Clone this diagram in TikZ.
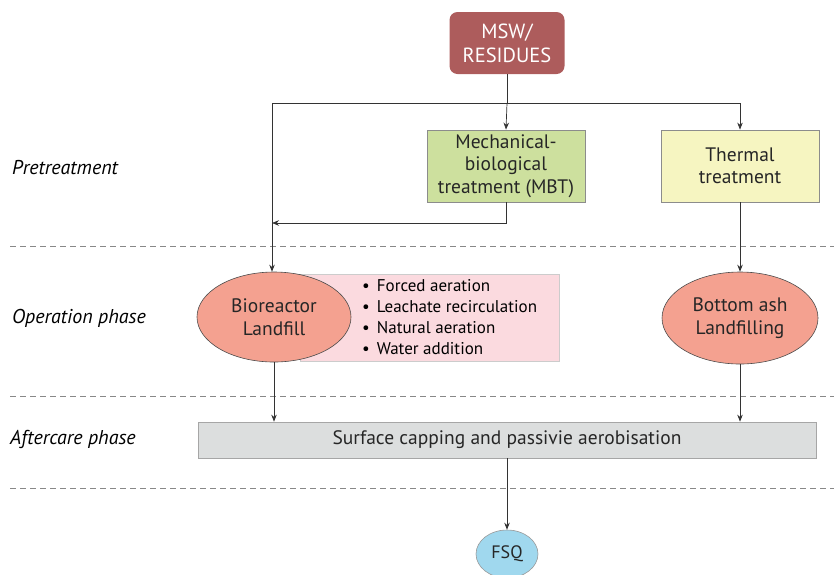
\documentclass[tikz,border=0pt]{standalone}
\usepackage{fontspec}
\setmainfont{PT Sans}
\usetikzlibrary{shapes.geometric,arrows.meta,calc}
\definecolor{mswc}{HTML}{AD5C5C}
\definecolor{mbtc}{HTML}{CDE09E}
\definecolor{thc}{HTML}{F6F5C1}
\definecolor{elc}{HTML}{F4A190}
\definecolor{pkc}{HTML}{FBDADF}
\definecolor{sfc}{HTML}{DCDEDE}
\definecolor{fsc}{HTML}{A0D8EE}
\definecolor{lnc}{HTML}{333333}
\definecolor{dsc}{HTML}{888888}
\begin{document}
\begin{tikzpicture}[x=1pt,y=-1pt,
  txt/.style={font=\fontsize{19.5}{22.5}\selectfont,text=black!85,align=center,inner sep=0pt},
  sqbox/.style={txt,draw=black!45,line width=0.8pt,minimum width=158pt,minimum height=72pt},
  ell/.style={txt,ellipse,draw=black!70,line width=0.6pt,fill=elc,inner sep=0pt},
  conn/.style={draw=lnc,line width=0.7pt},
  arr/.style={conn,-{Stealth[length=7pt,width=5.5pt]}},
  phase/.style={font=\itshape\fontsize{20}{22}\selectfont,anchor=west,inner sep=0pt},
  sep/.style={draw=dsc,line width=0.9pt,dash pattern=on 6pt off 4pt}]
\useasboundingbox (0,0) rectangle (834,574);
% separators
\draw[sep] (10,246) -- (834,246);
\draw[sep] (10,396) -- (834,396);
\draw[sep] (10,488) -- (834,488);
% phase labels
\node[phase] (p1) at (12,168) {Pretreatment};
\node[phase] (p2) at (12,318) {Operation phase};
\node[phase] (p3) at (10,439) {Aftercare phase};
% nodes
\node[txt,rounded corners=8pt,fill=mswc,text=white,minimum width=115pt,minimum height=62pt,font=\fontsize{20.5}{24}\selectfont] (msw) at (507,43) {MSW/\\RESIDUES};
\node[sqbox,fill=mbtc] (mbt) at (506,166) {Mechanical-\\biological\\treatment (MBT)};
\node[sqbox,fill=thc] (th) at (740,166) {Thermal\\treatment};
\node[draw=black!20,line width=0.6pt,fill=pkc,minimum width=259pt,minimum height=87pt,inner sep=0pt] (list) at (429.5,317.5) {};
\node[anchor=west,inner sep=0pt,font=\fontsize{17}{21.2}\selectfont,align=left] (items) at (362,317) {%
\textbullet\hspace{7pt}Forced aeration\\
\textbullet\hspace{7pt}Leachate recirculation\\
\textbullet\hspace{7pt}Natural aeration\\
\textbullet\hspace{7pt}Water addition};
\node[ell,minimum width=154pt,minimum height=90pt] (bio) at (274,317) {Bioreactor\\Landfill};
\node[ell,minimum width=156pt,minimum height=92pt] (ash) at (740,318) {Bottom ash\\Landfilling};
\node[txt,draw=black!35,line width=0.7pt,fill=sfc,minimum width=618pt,minimum height=36pt] (surf) at (507,440) {Surface capping and passivie aerobisation};
\node[txt,ellipse,draw=black!40,line width=0.6pt,fill=fsc,minimum width=62pt,minimum height=48pt,font=\fontsize{18}{20}\selectfont] (fsq) at (507,554) {FSQ};
% connectors
\coordinate (j) at (507,103);
\coordinate (jl) at (272,103);
\coordinate (m) at (272,223);
\draw[conn] (msw.south) -- (j);
\draw[arr] (j) -- (mbt.north);
\draw[arr] (j) -| (th.north);
\draw[arr] (j) -- (jl) -- (jl |- bio.north);
\draw[arr] (mbt.south) |- (m);
\draw[arr] (th.south) -- (ash.north);
\draw[arr] (bio.south) -- (bio.south |- surf.north);
\draw[arr] (ash.south) -- (ash.south |- surf.north);
\draw[arr] (surf.south) -- (fsq.north);
\end{tikzpicture}
\end{document}
